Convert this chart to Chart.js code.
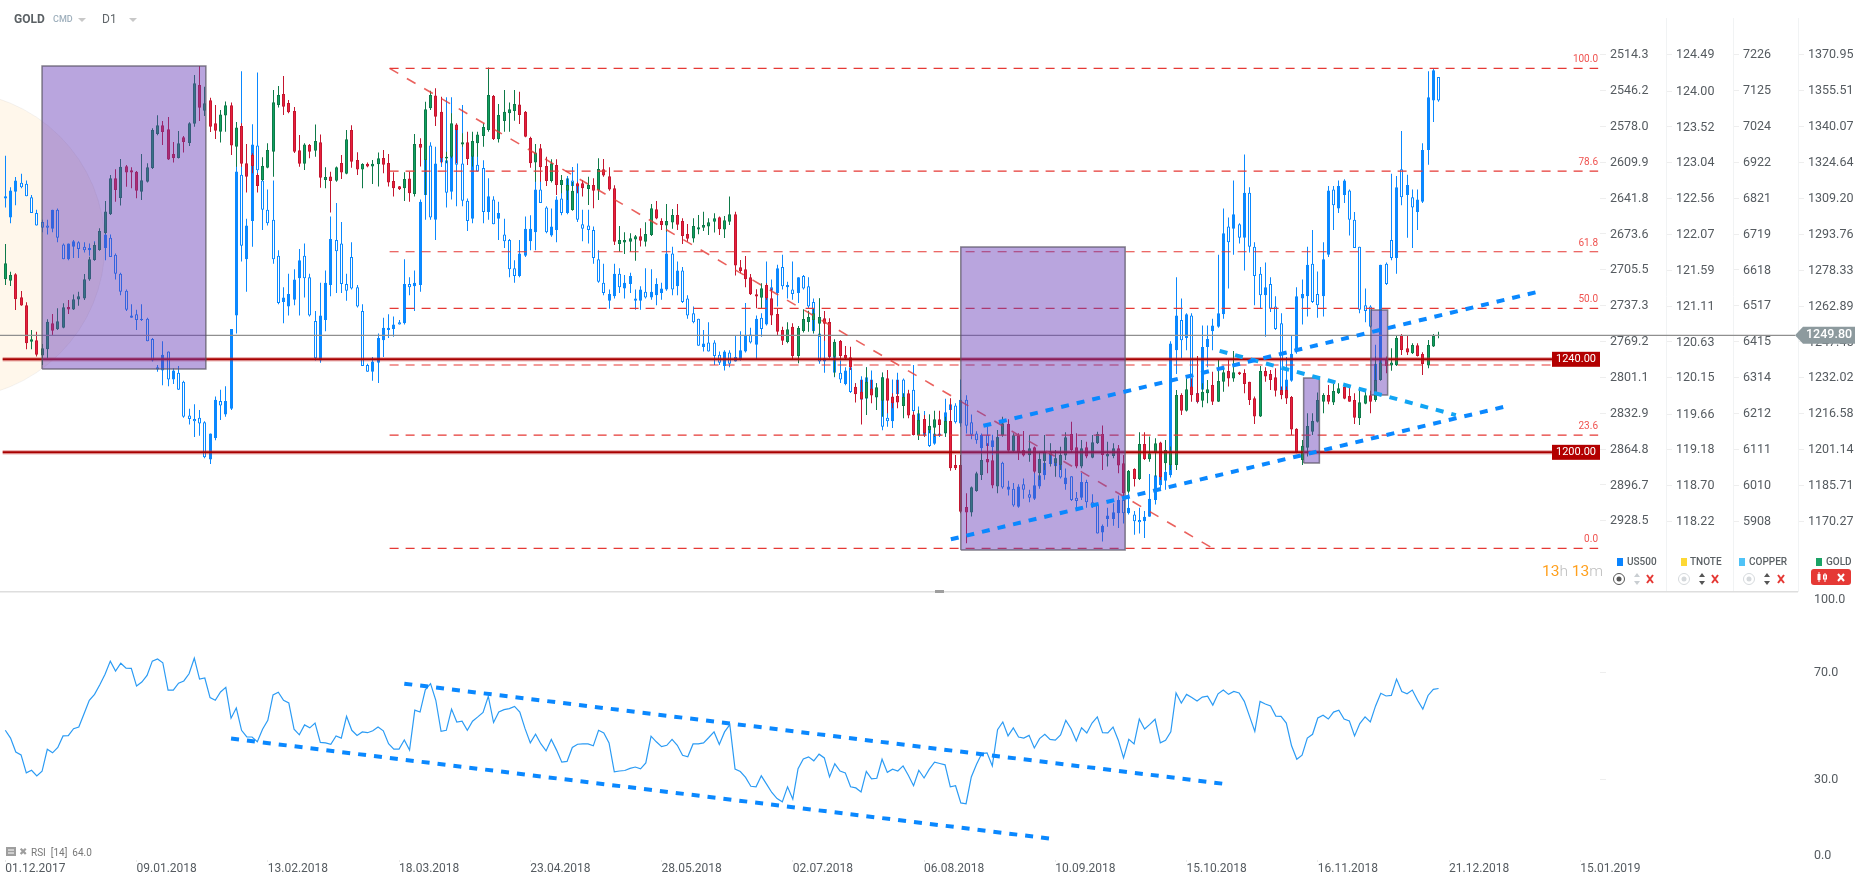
<!DOCTYPE html>
<html>
<head>
<meta charset="utf-8">
<title>GOLD D1</title>
<script src="https://cdn.jsdelivr.net/npm/chart.js@4/dist/chart.umd.min.js"></script>
<style>
  html, body { margin: 0; padding: 0; background: #fff; overflow: hidden; width: 1866px; height: 885px; font-family: Roboto, sans-serif; }
  canvas { position: absolute; left: 0; }
  .t { position: absolute; white-space: nowrap; line-height: 1; }
  .sq { position: absolute; width: 6px; height: 8px; }
  .tri { position: absolute; width: 0; height: 0; border-left: 4px solid transparent; border-right: 4px solid transparent; border-top: 4px solid #c8c8c8; }
  svg { position: absolute; }
</style>
</head>
<body>
<canvas id="main" width="1866" height="592" style="top:0"></canvas>
<canvas id="rsi" width="1866" height="293" style="top:592px"></canvas>

<svg style="left:0;top:0" width="1866" height="885">
  <rect x="1660" y="0" width="206" height="18" fill="#fff"/>
  <g fill="none" stroke="#555" stroke-width="1"><circle cx="1619" cy="579" r="5.5"/></g>
  <circle cx="1619" cy="579" r="2.5" fill="#555"/>
  <path d="M1637 573l3 4h-6zM1637 585l3-4h-6z" fill="#c9ced2"/>
  <path d="M1647 575l6 8M1653 575l-6 8" stroke="#e53935" stroke-width="2"/>
  <g fill="none" stroke="#d5d9dc" stroke-width="1"><circle cx="1684" cy="579" r="5.5"/><circle cx="1749" cy="579" r="5.5"/></g>
  <circle cx="1684" cy="579" r="2.5" fill="#d5d9dc"/><circle cx="1749" cy="579" r="2.5" fill="#d5d9dc"/>
  <path d="M1702 573l3 4h-6zM1702 585l3-4h-6zM1767 573l3 4h-6zM1767 585l3-4h-6z" fill="#555"/>
  <path d="M1712 575l6 8M1718 575l-6 8M1778 575l6 8M1784 575l-6 8" stroke="#e53935" stroke-width="2"/>
  <rect x="1811" y="569" width="40" height="16" rx="3" fill="#e53935"/>
  <path d="M1819 572v10M1825 573v9" stroke="#fff"/>
  <rect x="1817.5" y="574" width="3" height="6" fill="#fff"/><rect x="1823.5" y="575" width="3" height="4" fill="none" stroke="#fff"/>
  <path d="M1838 574l6 7M1844 574l-6 7" stroke="#fff" stroke-width="2"/>
  <rect x="6" y="847" width="10" height="9" fill="#9e9e9e"/>
  <path d="M8 850h6M8 853h6" stroke="#fff" stroke-width="1"/>
  <rect x="0" y="591" width="1798" height="1.5" fill="#dedede"/>
  <rect x="935" y="590" width="9" height="3" fill="#9e9e9e"/>
</svg>

<div class="t" style="left:14px;top:13px;font-size:12px;font-weight:700;color:#5b6165">GOLD</div>
<div class="t" style="left:53px;top:15px;font-size:9px;font-weight:500;color:#9fb0bd">CMD</div>
<div class="tri" style="left:78px;top:18px"></div>
<div class="t" style="left:102px;top:13px;font-size:12px;color:#60666a">D1</div>
<div class="tri" style="left:129px;top:18px"></div>

<div class="t" style="left:1542px;top:564px;font-size:15.5px;font-weight:300;color:#bdbdbd"><span style="color:#ffa01e;font-weight:400">13</span>h <span style="color:#ffa01e;font-weight:400">13</span>m</div>

<div class="sq" style="left:1617px;top:558px;background:#0a84ff"></div>
<div class="t" style="left:1627px;top:557px;font-size:10px;font-weight:500;color:#5b6165">US500</div>
<div class="sq" style="left:1681px;top:558px;background:#fdd835"></div>
<div class="t" style="left:1690px;top:557px;font-size:10px;font-weight:500;color:#5b6165">TNOTE</div>
<div class="sq" style="left:1739px;top:558px;background:#4fc3f7"></div>
<div class="t" style="left:1749px;top:557px;font-size:10px;font-weight:500;color:#5b6165">COPPER</div>
<div class="sq" style="left:1816px;top:558px;background:#1ba366"></div>
<div class="t" style="left:1826px;top:557px;font-size:10px;font-weight:500;color:#5b6165">GOLD</div>

<div class="t" style="left:19px;top:847px;font-size:10px;color:#9e9e9e">✖</div>
<div class="t" style="left:31px;top:848px;font-size:10px;color:#777">RSI&nbsp; [14]&nbsp; 64.0</div>

<script>
const goldHigh = [1289.6,1277.6,1277.0,1269.4,1264.5,1252.6,1251.8,1246.6,1257.2,1259.5,
1261.9,1264.1,1265.5,1267.9,1269.1,1276.7,1284.1,1290.2,1296.3,1308.1,
1319.3,1321.7,1326.1,1323.6,1322.6,1321.0,1328.3,1324.3,1339.3,1344.9,
1342.5,1344.2,1333.4,1338.2,1336.0,1341.9,1362.2,1366.1,1357.2,1352.5,
1349.4,1347.2,1350.9,1350.4,1342.0,1341.5,1332.6,1328.6,1320.0,1326.9,
1332.9,1355.8,1357.5,1361.8,1351.5,1348.5,1336.4,1332.9,1332.6,1341.0,
1336.7,1322.6,1320.7,1322.9,1327.9,1338.6,1340.6,1329.0,1324.3,1324.6,
1325.7,1328.9,1330.0,1328.3,1320.4,1314.5,1320.4,1320.7,1336.9,1335.0,
1350.8,1355.5,1356.5,1352.9,1329.3,1345.8,1341.5,1337.2,1337.9,1337.9,
1337.9,1341.5,1365.5,1353.7,1349.8,1355.8,1350.4,1355.8,1355.0,1346.8,
1335.7,1332.6,1332.6,1327.1,1326.0,1326.0,1319.3,1317.8,1316.4,1316.4,
1317.1,1318.5,1317.8,1326.4,1326.1,1322.6,1314.8,1297.3,1294.6,1294.2,
1293.5,1296.3,1298.9,1306.8,1308.1,1300.6,1306.8,1304.6,1306.8,1300.6,
1298.2,1300.6,1302.1,1303.4,1300.6,1302.8,1301.4,1301.6,1310.0,1303.4,
1282.7,1284.4,1276.7,1270.1,1272.7,1272.7,1270.5,1261.9,1254.0,1255.9,
1255.5,1254.3,1261.5,1260.9,1261.9,1266.2,1260.8,1257.6,1248.6,1248.3,
1245.7,1245.4,1229.7,1231.1,1236.6,1231.1,1229.7,1234.3,1235.4,1225.4,
1231.1,1225.4,1226.8,1217.5,1218.2,1216.1,1216.3,1217.9,1217.9,1215.3,
1223.2,1198.9,1198.9,1182.4,1185.3,1191.7,1199.6,1203.9,1198.9,1209.6,
1215.3,1214.2,1208.2,1208.2,1209.2,1207.5,1202.5,1200.3,1207.5,1203.9,
1201.0,1202.4,1208.6,1213.1,1208.2,1205.3,1204.6,1207.5,1208.9,1211.5,
1204.6,1203.9,1203.2,1198.9,1192.4,1193.1,1208.6,1208.6,1206.8,1206.0,
1204.6,1205.3,1202.5,1226.8,1225.4,1233.3,1231.8,1241.4,1229.7,1231.1,
1234.7,1239.7,1236.1,1239.7,1243.6,1234.7,1235.7,1230.4,1224.0,1237.1,
1236.6,1235.4,1236.1,1228.3,1228.3,1224.2,1210.3,1205.3,1216.8,1216.8,
1225.7,1225.4,1229.0,1229.4,1229.7,1229.0,1228.5,1225.4,1226.8,1226.8,
1226.5,1241.2,1239.7,1241.2,1244.7,1250.5,1250.9,1250.0,1246.9,1246.9,
1243.0,1248.3,1250.9,1251.9];
const goldLow = [1272.0,1271.5,1261.2,1263.0,1244.3,1244.3,1241.2,1237.6,1240.4,1250.5,
1252.6,1253.3,1259.5,1261.2,1263.0,1265.5,1273.8,1282.4,1286.7,1293.9,
1302.1,1307.8,1306.1,1314.2,1313.5,1309.2,1308.5,1316.0,1321.8,1336.3,
1332.2,1325.7,1324.6,1326.3,1328.9,1331.7,1340.0,1342.5,1344.6,1337.7,
1334.7,1333.2,1337.9,1327.9,1322.8,1322.8,1311.7,1320.0,1311.7,1316.8,
1322.1,1318.5,1348.3,1345.0,1345.8,1328.7,1322.8,1321.4,1326.4,1327.1,
1313.8,1313.5,1303.1,1316.4,1317.5,1319.6,1322.4,1319.3,1313.5,1322.6,
1315.4,1314.3,1320.0,1314.3,1310.0,1312.8,1308.1,1307.8,1310.0,1322.9,
1310.7,1347.2,1340.3,1324.3,1324.3,1326.4,1324.3,1331.4,1323.6,1322.9,
1327.1,1331.4,1337.9,1334.3,1333.2,1337.9,1337.9,1342.6,1341.2,1335.5,
1322.4,1316.4,1316.4,1314.5,1316.0,1310.7,1311.4,1308.5,1303.9,1311.4,
1310.0,1306.4,1304.9,1308.5,1318.5,1312.5,1289.2,1286.3,1285.3,1286.3,
1282.4,1288.5,1288.5,1293.0,1300.2,1295.6,1294.9,1296.1,1295.6,1289.6,
1290.6,1290.2,1293.8,1295.2,1293.5,1294.5,1293.5,1292.2,1297.8,1276.0,
1277.0,1271.0,1267.7,1262.0,1261.9,1265.5,1254.8,1250.5,1246.2,1246.9,
1240.1,1238.3,1251.5,1251.9,1251.2,1249.7,1248.0,1240.4,1232.5,1239.7,
1239.7,1235.4,1221.4,1212.0,1216.1,1221.1,1218.2,1215.3,1216.8,1218.9,
1218.9,1214.6,1214.6,1207.2,1205.3,1206.7,1208.2,1206.7,1207.5,1206.7,
1192.1,1192.4,1173.8,1160.9,1172.4,1183.1,1188.1,1191.0,1184.5,1182.4,
1206.7,1200.3,1200.3,1196.7,1198.2,1196.0,1191.0,1188.1,1192.4,1193.9,
1189.5,1192.4,1196.7,1200.3,1193.1,1193.1,1197.4,1197.4,1203.6,1192.4,
1193.9,1197.4,1191.0,1181.0,1182.4,1185.3,1188.1,1196.7,1196.0,1189.6,
1188.1,1192.4,1192.4,1192.4,1216.1,1217.6,1221.8,1221.1,1219.4,1221.1,
1220.4,1221.6,1226.1,1228.3,1230.4,1233.3,1225.4,1220.4,1212.2,1215.2,
1230.4,1226.8,1224.0,1222.8,1220.8,1207.5,1199.6,1194.6,1198.2,1207.5,
1212.8,1216.8,1220.7,1220.4,1225.1,1222.8,1221.7,1212.2,1211.8,1220.7,
1216.8,1221.8,1230.8,1234.0,1235.1,1237.1,1241.9,1241.9,1242.3,1241.2,
1233.3,1236.1,1245.3,1249.0];
const goldOpen = [1274.4,1273.8,1276.6,1266.7,1263.2,1247.6,1248.2,1241.6,1244.3,1255.5,
1252.9,1253.6,1262.5,1261.4,1265.7,1266.1,1274.3,1282.7,1287.0,1294.2,
1302.4,1317.8,1309.4,1323.0,1321.3,1320.7,1312.1,1316.3,1322.3,1336.9,
1340.6,1338.9,1328.3,1326.6,1335.5,1333.0,1341.3,1358.0,1346.9,1351.4,
1341.5,1337.9,1344.8,1349.2,1331.4,1340.3,1324.3,1327.9,1319.3,1317.1,
1322.4,1329.3,1349.4,1354.1,1350.2,1346.8,1329.9,1324.1,1332.2,1329.7,
1333.3,1317.1,1318.6,1316.8,1324.4,1319.8,1338.6,1325.7,1321.6,1324.1,
1322.9,1323.9,1326.6,1324.4,1316.7,1314.4,1313.5,1317.7,1311.1,1332.6,
1325.7,1347.9,1353.4,1346.4,1326.3,1327.1,1341.0,1332.4,1333.3,1327.1,
1332.9,1336.0,1338.6,1353.2,1334.6,1342.5,1345.8,1346.8,1349.6,1346.4,
1335.2,1324.6,1330.7,1323.1,1316.7,1323.6,1315.0,1312.5,1304.2,1315.7,
1315.7,1313.2,1315.0,1312.8,1321.7,1318.7,1313.5,1289.6,1290.2,1290.6,
1291.5,1292.9,1290.6,1293.5,1304.5,1299.5,1297.5,1298.8,1302.1,1299.5,
1293.9,1291.9,1295.8,1296.6,1297.1,1299.2,1301.1,1295.8,1299.2,1302.4,
1279.6,1278.7,1275.3,1268.0,1266.5,1272.0,1266.2,1259.5,1252.6,1247.4,
1254.0,1241.4,1252.2,1256.0,1256.9,1255.3,1257.6,1256.0,1241.1,1247.9,
1241.9,1240.9,1228.2,1226.1,1223.2,1227.4,1223.7,1222.2,1231.8,1223.9,
1224.2,1219.9,1225.4,1216.3,1207.2,1214.3,1209.6,1210.6,1214.2,1208.2,
1213.5,1194.6,1194.6,1176.5,1174.1,1183.4,1190.3,1197.1,1196.6,1185.3,
1207.2,1212.2,1200.6,1207.2,1201.0,1198.7,1202.2,1191.0,1196.3,1198.6,
1195.3,1194.6,1198.6,1207.9,1202.2,1193.9,1202.2,1197.7,1203.9,1207.9,
1198.2,1198.4,1201.7,1195.3,1183.1,1192.8,1188.5,1203.6,1197.0,1199.6,
1204.2,1195.3,1194.6,1194.6,1224.7,1217.9,1228.3,1225.4,1222.2,1225.4,
1229.0,1221.8,1230.4,1235.0,1231.7,1234.4,1234.1,1230.3,1223.2,1215.4,
1235.0,1233.7,1232.3,1226.8,1226.8,1223.8,1210.1,1196.7,1202.0,1208.9,
1213.2,1221.8,1224.7,1221.4,1225.4,1228.1,1224.2,1222.5,1214.6,1220.9,
1224.5,1222.5,1231.1,1240.0,1237.3,1237.4,1250.2,1244.7,1242.6,1246.0,
1242.3,1237.3,1245.5,1250.0];
const goldClose = [1281.3,1276.3,1265.8,1263.1,1246.9,1248.6,1242.0,1244.7,1256.1,1252.3,
1256.4,1262.4,1261.4,1265.8,1267.1,1274.4,1283.0,1289.2,1295.2,1303.6,
1317.8,1312.8,1322.8,1320.3,1320.3,1312.5,1317.0,1322.6,1338.6,1340.6,
1337.7,1325.9,1326.6,1332.9,1333.4,1341.5,1358.7,1348.2,1350.1,1340.0,
1338.3,1345.3,1349.2,1331.9,1339.7,1324.1,1318.5,1323.1,1314.5,1323.1,
1330.0,1350.5,1353.7,1348.6,1346.2,1329.2,1324.1,1332.4,1329.3,1333.9,
1318.1,1318.4,1316.7,1322.6,1320.3,1334.6,1324.9,1321.6,1324.0,1322.9,
1324.1,1326.4,1323.7,1316.0,1313.5,1313.1,1317.5,1311.4,1332.6,1331.0,
1347.5,1353.7,1344.3,1326.4,1327.1,1341.5,1338.6,1333.3,1326.1,1333.9,
1336.7,1339.9,1353.7,1334.7,1345.1,1346.4,1347.5,1349.8,1345.1,1335.7,
1324.3,1328.9,1322.6,1316.7,1324.3,1315.0,1317.1,1315.0,1312.5,1314.3,
1313.5,1315.0,1312.5,1321.8,1319.0,1313.0,1290.6,1291.3,1291.3,1292.0,
1292.9,1291.0,1293.9,1304.9,1300.5,1297.8,1299.5,1302.1,1297.9,1293.0,
1291.8,1297.3,1296.8,1297.8,1298.9,1300.6,1295.9,1299.8,1302.4,1280.3,
1278.0,1274.4,1268.0,1267.0,1270.5,1266.2,1258.8,1251.9,1248.0,1252.9,
1241.4,1253.5,1257.3,1258.2,1259.8,1258.2,1255.3,1241.1,1247.6,1241.4,
1240.4,1236.6,1225.1,1222.8,1230.4,1224.4,1228.0,1232.3,1222.2,1221.1,
1221.4,1223.9,1215.8,1207.5,1213.9,1208.2,1211.3,1214.2,1211.8,1213.5,
1193.1,1193.1,1174.5,1174.1,1185.0,1191.0,1196.7,1195.6,1185.7,1206.5,
1212.5,1200.7,1207.3,1200.0,1198.6,1201.7,1191.7,1197.1,1200.3,1200.3,
1197.4,1198.9,1206.5,1201.0,1193.9,1201.7,1198.2,1204.3,1207.9,1198.9,
1199.3,1201.7,1194.3,1182.4,1192.1,1188.5,1203.6,1197.1,1199.6,1203.9,
1189.3,1201.0,1200.3,1224.7,1217.9,1227.1,1224.7,1221.8,1226.1,1227.1,
1221.8,1230.7,1234.4,1231.7,1234.4,1233.6,1229.4,1222.5,1215.4,1235.0,
1232.6,1231.1,1226.5,1224.7,1223.1,1209.8,1199.9,1202.8,1211.3,1213.5,
1222.5,1224.7,1221.8,1226.4,1227.5,1223.0,1221.8,1214.9,1221.5,1224.5,
1221.8,1231.1,1238.6,1237.1,1238.6,1249.2,1244.0,1242.9,1246.2,1241.4,
1238.0,1246.2,1250.0,1250.6];

const usLow = [2604,2632,2623,2620,2626,2639,2652,2661,2661,2652,
2651,2682,2682,2679,2680,2681,2682,2680,2675,2661,
2674,2691,2708,2723,2736,2741,2736,2748,2766,2790,
2769,2778,2793,2791,2804,2829,2825,2830,2840,2851,
2818,2812,2809,2758,2597,2529,2660,2576,2530,2620,
2634,2626,2688,2721,2709,2705,2687,2682,2709,2742,
2717,2706,2658,2646,2663,2709,2681,2719,2736,2789,
2783,2762,2748,2745,2747,2750,2696,2712,2706,2643,
2593,2592,2596,2591,2552,2552,2576,2559,2642,2592,
2587,2608,2624,2640,2645,2660,2678,2697,2679,2658,
2657,2596,2626,2649,2651,2640,2634,2622,2614,2611,
2652,2652,2667,2688,2700,2723,2700,2704,2710,2708,
2723,2720,2704,2705,2713,2717,2670,2685,2698,2703,
2728,2738,2749,2759,2752,2768,2778,2777,2777,2764,
2760,2735,2757,2746,2744,2698,2714,2701,2692,2716,
2698,2712,2710,2712,2731,2731,2762,2763,2768,2786,
2792,2789,2806,2800,2792,2795,2806,2797,2795,2803,
2797,2802,2812,2790,2827,2831,2834,2845,2846,2820,
2820,2824,2803,2817,2834,2849,2851,2845,2852,2852,
2876,2893,2895,2896,2891,2901,2885,2875,2867,2860,
2870,2870,2882,2889,2903,2886,2892,2905,2913,2932,
2917,2913,2906,2907,2904,2920,2917,2920,2887,2882,
2877,2874,2769,2712,2731,2744,2744,2782,2755,2755,
2749,2692,2651,2659,2626,2664,2603,2632,2681,2703,
2699,2712,2729,2744,2783,2764,2721,2714,2685,2670,
2707,2681,2631,2631,2626,2625,2634,2654,2685,2722,
2737,2772,2701,2699,2620,2622,2582,2621,2634,2634,
2593,2529,2526,2534];
const usHigh = [2650,2664,2648,2633,2640,2655,2666,2672,2674,2672,
2681,2696,2697,2695,2695,2690,2693,2697,2686,2697,
2694,2714,2728,2742,2748,2759,2751,2769,2787,2796,
2808,2809,2807,2812,2837,2843,2854,2853,2873,2878,
2857,2839,2836,2830,2762,2698,2725,2685,2631,2670,
2666,2700,2736,2753,2746,2737,2746,2730,2747,2786,
2788,2760,2729,2726,2726,2733,2723,2739,2791,2796,
2804,2806,2783,2766,2765,2754,2754,2728,2742,2725,
2661,2661,2679,2614,2650,2643,2649,2649,2671,2664,
2618,2664,2661,2665,2679,2686,2712,2717,2712,2694,
2688,2688,2646,2673,2676,2681,2657,2656,2651,2663,
2680,2682,2700,2717,2728,2740,2731,2726,2731,2726,
2741,2741,2731,2732,2737,2732,2724,2728,2728,2735,
2749,2753,2773,2778,2778,2790,2790,2795,2792,2787,
2786,2779,2771,2785,2765,2755,2732,2738,2723,2731,
2732,2735,2723,2740,2762,2789,2797,2784,2801,2806,
2808,2815,2818,2821,2821,2818,2830,2848,2845,2846,
2824,2830,2833,2832,2854,2854,2863,2861,2854,2854,
2833,2842,2845,2851,2856,2860,2886,2875,2872,2889,
2900,2906,2916,2917,2909,2912,2910,2900,2892,2879,
2889,2891,2901,2911,2920,2910,2917,2917,2940,2947,
2934,2933,2935,2931,2923,2941,2940,2944,2925,2914,
2900,2901,2890,2798,2784,2777,2818,2824,2818,2792,
2777,2757,2749,2722,2692,2682,2706,2690,2737,2740,
2765,2743,2759,2818,2818,2805,2780,2754,2747,2735,
2748,2747,2694,2670,2655,2646,2675,2686,2744,2752,
2757,2818,2803,2719,2697,2709,2648,2677,2686,2670,
2646,2612,2574,2556];
const usOpen = [2642,2659,2636,2628,2629,2641,2655,2663,2666,2669,
2652,2683,2696,2685,2681,2685,2688,2688,2684,2686,
2677,2692,2709,2724,2748,2745,2749,2749,2767,2792,
2795,2778,2803,2797,2805,2835,2838,2837,2841,2874,
2855,2822,2834,2829,2746,2621,2696,2662,2595,2626,
2652,2661,2693,2734,2738,2732,2713,2693,2712,2751,
2786,2750,2719,2679,2682,2718,2694,2721,2742,2790,
2796,2788,2768,2759,2758,2752,2753,2718,2720,2719,
2639,2595,2661,2610,2608,2636,2581,2611,2644,2660,
2612,2615,2654,2643,2660,2674,2679,2704,2711,2693,
2680,2672,2634,2650,2675,2670,2642,2655,2626,2631,
2665,2666,2670,2696,2717,2733,2729,2709,2722,2718,
2733,2733,2725,2730,2728,2726,2723,2691,2720,2706,
2731,2744,2749,2774,2770,2770,2781,2791,2779,2787,
2785,2778,2763,2772,2748,2754,2721,2726,2703,2721,
2723,2726,2711,2720,2734,2762,2787,2783,2780,2797,
2807,2792,2813,2821,2820,2803,2811,2801,2837,2840,
2816,2803,2830,2812,2845,2840,2844,2860,2851,2851,
2830,2826,2842,2821,2841,2851,2864,2852,2863,2854,
2877,2901,2900,2916,2896,2905,2909,2898,2888,2878,
2873,2879,2896,2889,2908,2908,2894,2912,2914,2939,
2927,2927,2922,2910,2922,2923,2928,2929,2925,2910,
2897,2893,2888,2777,2750,2766,2746,2823,2812,2774,
2760,2756,2745,2667,2669,2665,2677,2637,2685,2709,
2728,2718,2738,2753,2817,2804,2777,2731,2729,2700,
2727,2729,2692,2634,2651,2639,2635,2661,2685,2737,
2738,2815,2800,2700,2679,2695,2616,2639,2641,2654,
2645,2599,2555,2534];
const usClose = [2640,2635,2626,2632,2640,2655,2666,2668,2668,2652,
2677,2696,2682,2680,2687,2688,2686,2684,2686,2674,
2694,2709,2725,2741,2746,2750,2750,2769,2786,2794,
2781,2803,2795,2812,2836,2838,2840,2842,2872,2851,
2821,2826,2822,2758,2618,2684,2666,2594,2617,2652,
2664,2696,2735,2730,2727,2714,2697,2713,2746,2784,
2746,2717,2678,2689,2718,2724,2722,2738,2791,2796,
2787,2766,2757,2757,2754,2754,2718,2721,2717,2645,
2594,2659,2611,2605,2637,2581,2612,2644,2662,2600,
2618,2654,2640,2665,2655,2680,2705,2711,2691,2669,
2669,2634,2646,2672,2667,2643,2655,2624,2631,2661,
2669,2670,2695,2716,2726,2727,2709,2721,2717,2711,
2731,2723,2730,2725,2718,2722,2691,2723,2706,2734,
2746,2752,2773,2771,2778,2782,2788,2778,2789,2783,
2777,2764,2770,2749,2758,2719,2724,2704,2720,2719,
2727,2712,2722,2738,2760,2787,2784,2774,2797,2803,
2795,2814,2816,2803,2801,2812,2819,2845,2840,2818,
2803,2826,2818,2831,2833,2853,2862,2851,2853,2832,
2825,2841,2821,2844,2852,2857,2852,2862,2857,2876,
2899,2898,2915,2898,2901,2908,2897,2888,2877,2867,
2880,2890,2890,2910,2911,2894,2912,2916,2940,2933,
2924,2921,2910,2922,2917,2929,2930,2925,2909,2888,
2888,2885,2771,2746,2768,2745,2817,2815,2774,2767,
2755,2744,2673,2681,2656,2677,2637,2685,2711,2728,
2721,2740,2758,2817,2803,2780,2729,2727,2701,2734,
2737,2696,2635,2648,2631,2626,2661,2686,2741,2742,
2756,2789,2701,2718,2695,2632,2641,2630,2650,2643,
2599,2552,2528,2555];

const rsiValues = [48.4,45.5,40.3,39.2,32.5,33.5,31.4,33.1,41.3,40.0,
42.0,46.3,46.4,49.0,49.6,54.6,59.6,61.8,65.4,69.3,
74.2,70.5,73.4,71.6,71.5,64.9,66.4,68.9,74.2,75.0,
73.6,63.4,63.4,66.0,66.8,69.5,75.3,67.5,67.9,60.6,
59.6,62.7,64.4,52.9,56.7,48.4,45.9,45.9,44.1,48.8,
52.1,61.6,62.6,59.6,58.6,48.8,46.7,50.4,49.3,51.1,
43.9,43.7,43.2,46.3,45.5,53.6,48.4,46.5,47.8,47.5,
48.2,49.6,48.2,43.4,41.4,41.4,44.8,41.0,55.9,55.2,
63.5,65.8,59.6,48.0,48.4,56.3,51.5,51.8,48.4,51.8,
53.4,55.1,61.1,51.3,55.2,56.1,56.5,57.3,55.2,49.0,
43.7,46.9,43.4,40.7,45.0,41.0,36.5,36.8,42.0,43.2,
43.3,43.3,42.6,48.4,47.4,43.7,32.9,33.2,33.4,34.2,
34.7,34.0,36.2,46.2,44.1,42.3,42.8,45.0,42.8,39.1,
38.5,43.3,43.3,43.7,45.7,47.8,43.1,47.8,50.5,33.9,
33.0,30.8,27.5,27.3,31.4,28.3,25.2,22.9,21.7,27.3,
22.7,34.1,37.7,38.5,37.0,39.5,38.1,31.0,35.9,33.2,
32.5,27.3,26.9,25.4,33.1,30.3,30.5,37.6,32.7,33.9,
33.2,35.1,31.6,27.7,33.5,30.6,33.9,36.5,36.0,35.5,
27.3,27.7,21.3,21.0,31.0,35.7,39.7,40.0,35.1,48.6,
51.5,46.3,49.3,45.9,45.5,46.5,41.8,45.3,46.9,45.0,
44.7,46.7,52.1,49.0,44.4,49.3,47.4,51.1,53.4,47.5,
47.4,49.6,44.7,38.1,45.0,43.3,52.6,48.9,50.6,52.5,
43.7,44.7,47.8,62.3,58.6,61.8,60.6,59.3,60.8,61.1,
57.8,62.0,63.4,61.8,62.9,62.3,59.2,53.6,48.0,59.2,
58.2,57.5,53.7,53.6,51.1,42.6,37.6,39.1,45.5,46.9,
53.0,54.0,52.6,55.2,55.9,52.6,51.9,46.3,50.9,53.4,
51.5,57.5,62.2,61.2,61.4,67.5,62.9,62.0,63.4,59.6,
56.3,61.4,63.7,64.0];

const dateLabels = ["01.12.2017","09.01.2018","13.02.2018","18.03.2018","23.04.2018","28.05.2018","02.07.2018","06.08.2018","10.09.2018","15.10.2018","16.11.2018","21.12.2018","15.01.2019"];
const dateTicks = [0,25,50,75,100,125,150,175,200,225,250,275,300];

const us500Ticks = [2514.3,2546.2,2578.0,2609.9,2641.8,2673.6,2705.5,2737.3,2769.2,2801.1,2832.9,2864.8,2896.7,2928.5];
const tnoteTicks = [124.49,124.00,123.52,123.04,122.56,122.07,121.59,121.11,120.63,120.15,119.66,119.18,118.70,118.22];
const copperTicks = [7226,7125,7024,6922,6821,6719,6618,6517,6415,6314,6212,6111,6010,5908];
const goldTicks = [1370.95,1355.51,1340.07,1324.64,1309.20,1293.76,1278.33,1262.89,1247.45,1232.02,1216.58,1201.14,1185.71,1170.27];
const rsiTicks = [100,70,30,0];

// fibonacci drawing on gold
const fibLow = 1158.7;
const fibHigh = 1365.1;
const fibLevels = [100.0,78.6,61.8,50.0,38.2,23.6,0.0];
const supportLevels = [1240,1200];
const lastPrice = 1250.3;
const lastLabel = "1249.80";

// purple boxes, bar index and gold price
const zoneFrom = [7.0,182.0,247.3,260.1];
const zoneTo = [38.2,213.3,250.3,263.3];
const zoneTop = [1366.1,1288.3,1232.0,1261.2];
const zoneBottom = [1235.8,1158.0,1195.4,1224.6];

const trendUpperX = [186.3,291.5], trendUpperY = [1211.4,1268.8];
const trendLowerX = [180.1,285.5], trendLowerY = [1162.6,1219.6];
const trendFallX = [231.3,276.3], trendFallY = [1243.6,1216.0];
const rsiUpperX = [76,231.8], rsiUpperY = [65.8,28.5];
const rsiLowerX = [43,198.9], rsiLowerY = [45.3,8.0];

const XMIN = -1.01, XMAX = 303.75;
const BLUE = "#0a88ff";

function bars(a, b) {
  return a.map((v, i) => ({ x: i, y: [v, b[i]] }));
}
function pts(xs, ys) {
  return xs.map((x, i) => ({ x: x, y: ys[i] }));
}
function flat(v) {
  return [{ x: 73.2, y: v }, { x: 303.4, y: v }];
}

// one px wicks go blurry on fractional positions
const snapBars = {
  id: "snapBars",
  afterDatasetUpdate(chart, args) {
    if (args.meta.type !== "bar") return;
    args.meta.data.forEach(b => { b.x = Math.floor(b.x) + 0.5; });
  }
};

const priceTags = {
  id: "priceTags",
  afterDraw(chart) {
    const ctx = chart.ctx;
    const y = chart.scales.yGold;
    ctx.save();
    ctx.font = "10px Roboto";
    ctx.fillStyle = "#ef5350";
    ctx.textAlign = "right";
    ctx.textBaseline = "middle";
    fibLevels.forEach(l => {
      if (l === 38.2) return;
      ctx.fillText(l.toFixed(1), 1598, y.getPixelForValue(fibLow + (fibHigh - fibLow) * l / 100) - 8.5);
    });
    supportLevels.forEach(v => {
      const py = y.getPixelForValue(v);
      ctx.fillStyle = "#b30000";
      ctx.fillRect(1552, py - 7.5, 48, 15);
      ctx.fillStyle = "#fff";
      ctx.textAlign = "center";
      ctx.font = "11px Roboto";
      ctx.fillText(v.toFixed(2), 1576, py);
    });
    const py = y.getPixelForValue(lastPrice);
    ctx.fillStyle = "#8d9a9e";
    ctx.beginPath();
    ctx.moveTo(1795, py);
    ctx.lineTo(1803, py - 8.5);
    ctx.lineTo(1855, py - 8.5);
    ctx.lineTo(1855, py + 8.5);
    ctx.lineTo(1803, py + 8.5);
    ctx.closePath();
    ctx.fill();
    ctx.fillStyle = "#fff";
    ctx.font = "500 12.5px Roboto";
    ctx.textAlign = "left";
    ctx.fillText(lastLabel, 1806, py);
    ctx.restore();
  }
};

// labels would otherwise push the plot area in from the top and bottom
function fixSize(s, w, h) {
  if (w) s.width = w;
  if (h) s.height = h;
  s.paddingTop = 0;
  s.paddingBottom = 0;
  s.paddingLeft = 0;
  s.paddingRight = 0;
}

function sideAxis(ticks, min, max, digits, width, opts) {
  return Object.assign({
    axis: "y",
    type: "linear",
    position: "right",
    min: min,
    max: max,
    afterFit: s => fixSize(s, width),
    afterBuildTicks: s => { s.ticks = ticks.map(v => ({ value: v })); },
    border: { display: true, color: "#f1f3f4" },
    grid: { drawOnChartArea: false, color: "#eeeeee", tickLength: 6 },
    ticks: {
      color: "#555b60",
      font: { family: "Roboto", size: 12.5 },
      padding: 4,
      labelOffset: 0.5,
      autoSkip: false,
      callback: v => v.toFixed(digits)
    }
  }, opts || {});
}

const zoneFills = zoneFrom.map((x0, i) => ({
  type: "line",
  order: 1,
  yAxisID: "yGold",
  data: [{ x: x0, y: zoneTop[i] }, { x: zoneTo[i], y: zoneTop[i] }],
  fill: { value: zoneBottom[i] },
  backgroundColor: "rgba(103,58,183,0.46)",
  borderWidth: 0,
  pointRadius: 0,
  tension: 0
}));
const zoneEdges = zoneFrom.map((x0, i) => ({
  type: "line",
  order: 1,
  yAxisID: "yGold",
  data: [
    { x: x0, y: zoneBottom[i] }, { x: x0, y: zoneTop[i] },
    { x: zoneTo[i], y: zoneTop[i] }, { x: zoneTo[i], y: zoneBottom[i] }, { x: x0, y: zoneBottom[i] }
  ],
  fill: false,
  borderColor: "rgba(90,84,100,0.75)",
  borderWidth: 1.5,
  pointRadius: 0,
  tension: 0
}));

function dashed(data, color, yAxisID) {
  return {
    type: "line", order: 0, yAxisID: yAxisID, data: data,
    borderColor: color, borderWidth: 4, borderDash: [8, 8],
    pointRadius: 0, tension: 0, fill: false
  };
}
function lineSet(data, color, width, order, dash) {
  return {
    type: "line", order: order, yAxisID: "yGold", data: data,
    borderColor: color, borderWidth: width, borderDash: dash || [],
    pointRadius: 0, tension: 0, fill: false
  };
}

new Chart(document.getElementById("main"), {
  type: "bar",
  plugins: [snapBars, priceTags],
  data: {
    datasets: [
      dashed(pts(trendUpperX, trendUpperY), BLUE, "yGold"),
      dashed(pts(trendLowerX, trendLowerY), BLUE, "yGold"),
      dashed(pts(trendFallX, trendFallY), "#12a5f4", "yGold"),
      ...zoneEdges,
      ...zoneFills,
      ...fibLevels.map(l => lineSet(flat(fibLow + (fibHigh - fibLow) * l / 100), "#e53935", 1.2, 2, [9, 7])),
      lineSet([{ x: 73.2, y: fibHigh }, { x: 230, y: fibLow }], "rgba(229,57,53,0.8)", 1.6, 2, [10, 10]),
      ...supportLevels.map(v => lineSet([{ x: -0.5, y: v }, { x: 294.6, y: v }], "#a80000", 2, 2)),
      ...supportLevels.map(v => lineSet([{ x: -0.5, y: v }, { x: 294.6, y: v }], "rgba(198,40,40,0.35)", 4.5, 2)),
      Object.assign(lineSet([{ x: -1.01, y: lastPrice }, { x: 340.9, y: lastPrice }], "#8f8f8f", 1.2, 2), { clip: false }),
      {
        yAxisID: "yGold", order: 3, grouped: false, barThickness: 3, inflateAmount: 0, borderSkipped: false, borderWidth: 1,
        data: bars(goldOpen, goldClose),
        backgroundColor: c => goldClose[c.dataIndex] >= goldOpen[c.dataIndex] ? "#11a15f" : "#e8203c",
        borderColor: c => goldClose[c.dataIndex] >= goldOpen[c.dataIndex] ? "#0e7a49" : "#c4162f"
      },
      {
        yAxisID: "yGold", order: 4, grouped: false, barThickness: 1, inflateAmount: 0, borderWidth: 0,
        data: bars(goldLow, goldHigh),
        backgroundColor: c => goldClose[c.dataIndex] >= goldOpen[c.dataIndex] ? "#0e7a49" : "#c4162f"
      },
      {
        yAxisID: "yUs", order: 5, grouped: false, barThickness: 3, inflateAmount: 0, borderSkipped: false, borderWidth: 1,
        data: bars(usOpen, usClose),
        backgroundColor: c => usClose[c.dataIndex] > usOpen[c.dataIndex] ? "#ffffff" : BLUE,
        borderColor: BLUE
      },
      {
        yAxisID: "yUs", order: 6, grouped: false, barThickness: 1, inflateAmount: 0, borderWidth: 0,
        data: bars(usLow, usHigh),
        backgroundColor: BLUE
      },
      {
        // the pale arc on the left edge
        type: "bubble", order: 7, yAxisID: "yGold",
        data: [{ x: -10.3, y: 1289.2, r: 153.6 }],
        backgroundColor: "rgba(255,152,0,0.08)",
        borderColor: "rgba(120,120,120,0.08)",
        borderWidth: 1
      }
    ]
  },
  options: {
    responsive: false,
    animation: false,
    events: [],
    layout: { padding: 0, autoPadding: false },
    plugins: { legend: { display: false }, tooltip: { enabled: false } },
    scales: {
      x: { type: "linear", min: XMIN, max: XMAX, offset: false, display: false },
      yUs: sideAxis(us500Ticks, 2465.6, 2991.9, 1, 66, { reverse: true, border: { display: false } }),
      yTnote: sideAxis(tnoteTicks, 117.268, 125.227, 2, 67),
      yCopper: sideAxis(copperTicks, 5707.9, 7380.9, 0, 65),
      yGold: sideAxis(goldTicks, 1139.94, 1394.5, 2, 68)
    }
  }
});

new Chart(document.getElementById("rsi"), {
  type: "line",
  data: {
    datasets: [
      {
        order: 1, yAxisID: "yRsi",
        data: rsiValues.map((v, i) => ({ x: i, y: v })),
        borderColor: "#2b9bf4", borderWidth: 1.2, pointRadius: 0, tension: 0
      },
      dashed(pts(rsiUpperX, rsiUpperY), BLUE, "yRsi"),
      dashed(pts(rsiLowerX, rsiLowerY), BLUE, "yRsi")
    ]
  },
  options: {
    responsive: false,
    animation: false,
    events: [],
    layout: { padding: 0, autoPadding: false },
    plugins: { legend: { display: false }, tooltip: { enabled: false } },
    scales: {
      x: {
        type: "linear", min: XMIN, max: XMAX, position: "bottom",
        afterFit: s => fixSize(s, 0, 25),
        afterBuildTicks: s => { s.ticks = dateTicks.map(v => ({ value: v })); },
        border: { display: false },
        grid: { drawOnChartArea: false, color: "#e8e8e8", tickLength: 2 },
        ticks: {
          color: "#555b60", font: { family: "Roboto", size: 12 }, padding: -0.5,
          align: "start", autoSkip: false, maxRotation: 0,
          callback: (v, i) => dateLabels[i]
        }
      },
      // tick marks sit at the plot edge, the labels one column further right
      yRsi: {
        axis: "y", type: "linear", position: "right", min: 0, max: 100,
        afterFit: s => fixSize(s, 206),
        afterBuildTicks: s => { s.ticks = [{ value: 70 }, { value: 30 }]; },
        border: { display: false },
        grid: { drawOnChartArea: false, tickLength: 6, color: "#eeeeee" },
        ticks: { display: false }
      },
      yRsiLabels: {
        axis: "y", type: "linear", position: "right", min: 0, max: 100,
        afterFit: s => fixSize(s, 60),
        // end labels sit inside the panel, not on the panel edge
        afterBuildTicks: s => { s.ticks = [{ value: 97.0 }, { value: 70 }, { value: 30 }, { value: 1.4 }]; },
        border: { display: false },
        grid: { display: false },
        ticks: {
          color: "#555b60", font: { family: "Roboto", size: 12.5 }, padding: 0, autoSkip: false,
          callback: (v, i) => rsiTicks[i].toFixed(1)
        }
      }
    }
  }
});
</script>
</body>
</html>
